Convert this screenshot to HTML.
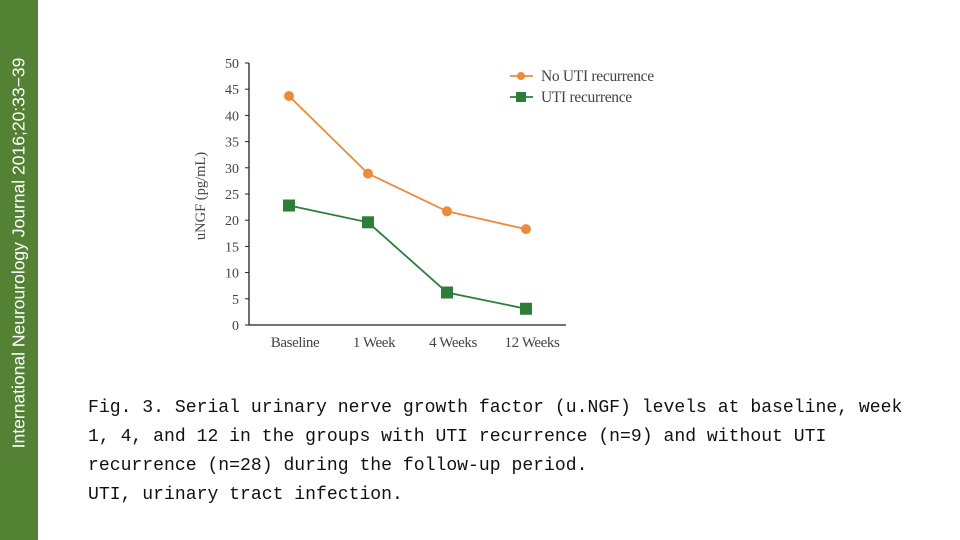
<!DOCTYPE html>
<html><head><meta charset="utf-8"><style>
body{margin:0;width:960px;height:540px;background:#fff;position:relative;overflow:hidden;font-family:"Liberation Sans",sans-serif}
#band{position:absolute;left:0;top:0;width:38px;height:540px;background:#548235}
#band span{position:absolute;left:19px;top:253px;transform:translate(-50%,-50%) rotate(-90deg);white-space:nowrap;color:#fff;font-size:17.5px}
#cap{position:absolute;left:88px;top:394px;font-family:"Liberation Mono",monospace;font-size:18.1px;line-height:29px;color:#111;white-space:nowrap}
svg{position:absolute;left:0;top:0}
</style></head><body>
<div id="band"><span>International Neurourology Journal 2016;20:33−39</span></div>
<svg id="chart" width="960" height="540"></svg>
<div id="cap">Fig. 3. Serial urinary nerve growth factor (u.NGF) levels at baseline, week<br>1, 4, and 12 in the groups with UTI recurrence (n=9) and without UTI<br>recurrence (n=28) during the follow-up period.<br>UTI, urinary tract infection.</div>
<script>
const categories=["Baseline","1 Week","4 Weeks","12 Weeks"];
const noUti=[43.7,28.9,21.7,18.3];
const uti=[22.8,19.6,6.2,3.1];
const yTicks=[0,5,10,15,20,25,30,35,40,45,50];
const NS="http://www.w3.org/2000/svg";
const svg=document.getElementById('chart');
function x(i){return 289+i*79;}
function y(v){return 325-v*5.24;}
function el(t,a,txt){const e=document.createElementNS(NS,t);for(const k in a)e.setAttribute(k,a[k]);if(txt!==undefined)e.textContent=txt;svg.appendChild(e);return e;}
const serif='"Liberation Serif",serif';
let e=el('line',{x1:249,y1:y(50),x2:249,y2:325,stroke:'#222','stroke-width':1.3});

e=el('line',{x1:249,y1:325,x2:566,y2:325,stroke:'#222','stroke-width':1.3});

yTicks.forEach(v=>{
 e=el('line',{x1:245,y1:y(v),x2:249,y2:y(v),stroke:'#222'});
 
 e=el('text',{x:239,y:y(v)+5,'text-anchor':'end','font-family':serif,'font-size':14,fill:'#444'},v);
 
});
categories.forEach((c,i)=>{
 e=el('text',{x:x(i)+6,y:347,'text-anchor':'middle','font-family':serif,'font-size':15,fill:'#444','letter-spacing':'-0.4'},c);
 
});
e=el('text',{x:0,y:0,transform:'translate(205,196) rotate(-90)','text-anchor':'middle','font-family':serif,'font-size':14.5,fill:'#444'},'uNGF (pg/mL)');

const orange='#ed8b3b',green='#2e7d3a';
e=el('polyline',{points:noUti.map((v,i)=>x(i)+','+y(v)).join(' '),fill:'none',stroke:orange,'stroke-width':1.8});

e=el('polyline',{points:uti.map((v,i)=>x(i)+','+y(v)).join(' '),fill:'none',stroke:green,'stroke-width':1.8});

noUti.forEach((v,i)=>{e=el('circle',{cx:x(i),cy:y(v),r:5,fill:orange});
 });
uti.forEach((v,i)=>{e=el('rect',{x:x(i)-6,y:y(v)-6,width:12,height:12,fill:green});
 });
e=el('line',{x1:510,y1:76,x2:533,y2:76,stroke:orange,'stroke-width':1.8});

e=el('circle',{cx:521,cy:76,r:4,fill:orange});

e=el('text',{x:541,y:81,'font-family':serif,'font-size':15.5,fill:'#444','letter-spacing':'-0.3'},'No UTI recurrence');

e=el('line',{x1:510,y1:97,x2:533,y2:97,stroke:green,'stroke-width':1.8});

e=el('rect',{x:516,y:92,width:10,height:10,fill:green});

e=el('text',{x:541,y:102,'font-family':serif,'font-size':15.5,fill:'#444','letter-spacing':'-0.3'},'UTI recurrence');

</script>
</body></html>
